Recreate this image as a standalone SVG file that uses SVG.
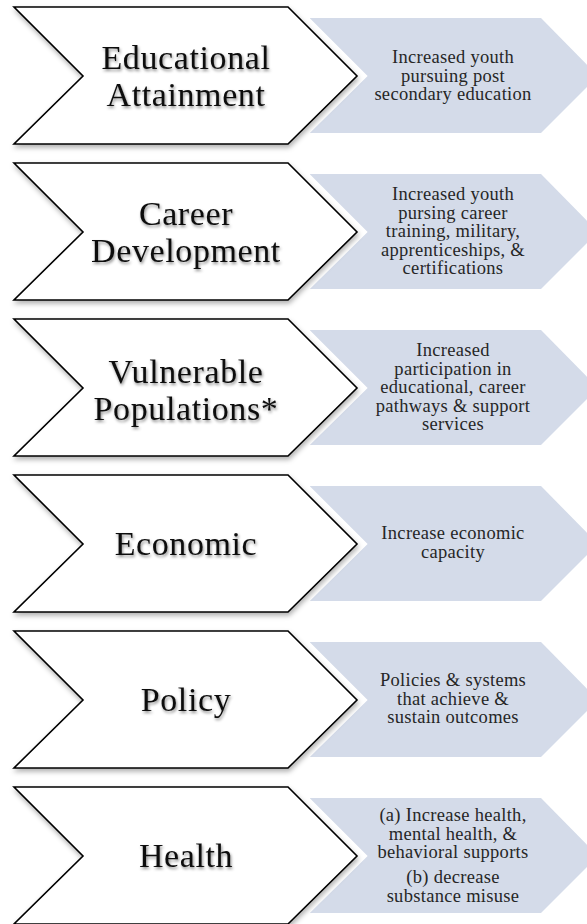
<svg xmlns="http://www.w3.org/2000/svg" xmlns:xlink="http://www.w3.org/1999/xlink" width="587" height="924" viewBox="0 0 587 924">
<style>
.blue{fill:#D4DBE9;}
.halo{fill:#fff;stroke:#fff;stroke-width:15;stroke-linejoin:miter;}
.chev{fill:#fff;stroke:#000;stroke-width:1.6;stroke-linejoin:miter;filter:url(#shadow);}
.big{font-family:"Liberation Serif",serif;font-size:34px;letter-spacing:0.6px;text-anchor:middle;fill:#111;filter:url(#tshadow);}
.small{font-family:"Liberation Serif",serif;font-size:18.5px;letter-spacing:0.3px;text-anchor:middle;fill:#262626;}
</style>
<defs>
<polygon id="chevShape" points="14,0 288,0 357,69 288,137 14,137 83,69"/>
<polygon id="blueShape" points="310,11 541,11 598,69 541,126 310,126"/>
<filter id="shadow" x="-5%" y="-10%" width="115%" height="130%">
<feDropShadow dx="1" dy="3" stdDeviation="2.5" flood-color="#000" flood-opacity="0.3"/>
</filter>
<filter id="tshadow" x="-10%" y="-20%" width="120%" height="150%">
<feDropShadow dx="1" dy="2" stdDeviation="1.6" flood-color="#000" flood-opacity="0.45"/>
</filter>
</defs>

<g id="row1" transform="translate(0,7)">
<g id="educational-outcome"><use xlink:href="#blueShape" class="blue"/>
<text class="small" x="453"><tspan x="453" y="56">Increased youth</tspan><tspan x="453" y="74.5">pursuing post</tspan><tspan x="453" y="93">secondary education</tspan></text></g>
<g id="educational-attainment"><use xlink:href="#chevShape" class="halo"/><use xlink:href="#chevShape" class="chev"/>
<text class="big"><tspan x="186" y="62">Educational</tspan><tspan x="186" y="99">Attainment</tspan></text></g>
</g>

<g id="row2" transform="translate(0,163)">
<g id="career-outcome"><use xlink:href="#blueShape" class="blue"/>
<text class="small"><tspan x="453" y="37">Increased youth</tspan><tspan x="453" y="55.5">pursing career</tspan><tspan x="453" y="74">training, military,</tspan><tspan x="453" y="92.5">apprenticeships, &amp;</tspan><tspan x="453" y="111">certifications</tspan></text></g>
<g id="career-development"><use xlink:href="#chevShape" class="halo"/><use xlink:href="#chevShape" class="chev"/>
<text class="big"><tspan x="186" y="62">Career</tspan><tspan x="186" y="99">Development</tspan></text></g>
</g>

<g id="row3" transform="translate(0,319)">
<g id="vulnerable-outcome"><use xlink:href="#blueShape" class="blue"/>
<text class="small"><tspan x="453" y="37">Increased</tspan><tspan x="453" y="55.5">participation in</tspan><tspan x="453" y="74">educational, career</tspan><tspan x="453" y="92.5">pathways &amp; support</tspan><tspan x="453" y="111">services</tspan></text></g>
<g id="vulnerable-populations"><use xlink:href="#chevShape" class="halo"/><use xlink:href="#chevShape" class="chev"/>
<text class="big"><tspan x="186" y="64">Vulnerable</tspan><tspan x="186" y="101">Populations*</tspan></text></g>
</g>

<g id="row4" transform="translate(0,475)">
<g id="economic-outcome"><use xlink:href="#blueShape" class="blue"/>
<text class="small"><tspan x="453" y="64">Increase economic</tspan><tspan x="453" y="82.5">capacity</tspan></text></g>
<g id="economic"><use xlink:href="#chevShape" class="halo"/><use xlink:href="#chevShape" class="chev"/>
<text class="big" x="186" y="80">Economic</text></g>
</g>

<g id="row5" transform="translate(0,631)">
<g id="policy-outcome"><use xlink:href="#blueShape" class="blue"/>
<text class="small"><tspan x="453" y="55">Policies &amp; systems</tspan><tspan x="453" y="73.5">that achieve &amp;</tspan><tspan x="453" y="92">sustain outcomes</tspan></text></g>
<g id="policy"><use xlink:href="#chevShape" class="halo"/><use xlink:href="#chevShape" class="chev"/>
<text class="big" x="186" y="80">Policy</text></g>
</g>

<g id="row6" transform="translate(0,787)">
<g id="health-outcome"><use xlink:href="#blueShape" class="blue"/>
<text class="small"><tspan x="453" y="34">(a) Increase health,</tspan><tspan x="453" y="52.5">mental health, &amp;</tspan><tspan x="453" y="71">behavioral supports</tspan><tspan x="453" y="96">(b) decrease</tspan><tspan x="453" y="114.5">substance misuse</tspan></text></g>
<g id="health"><use xlink:href="#chevShape" class="halo"/><use xlink:href="#chevShape" class="chev"/>
<text class="big" x="186" y="80">Health</text></g>
</g>

<g id="connectors"/>
</svg>
